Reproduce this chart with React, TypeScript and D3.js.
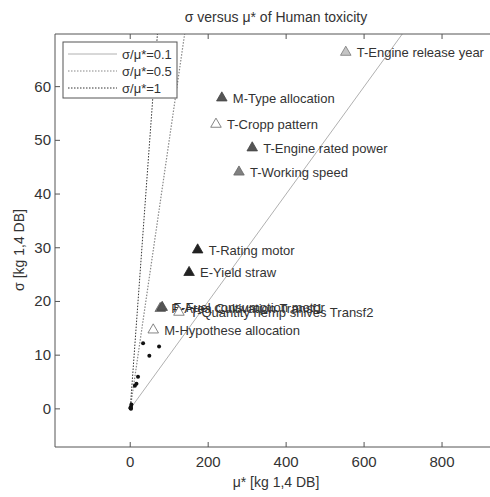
import React from "react";
import * as d3 from "d3";

const pointLabels = [
  "T-Engine release year",
  "M-Type allocation",
  "T-Cropp pattern",
  "T-Engine rated power",
  "T-Working speed",
  "T-Rating motor",
  "E-Yield straw",
  "P-Area Cultivation Transf1",
  "F-Fuel consumption motor",
  "T-Quantity hemp shives Transf2",
  "M-Hypothese allocation",
];
const pointMu = [553, 235, 220, 313, 279, 173, 151, 77, 82, 125, 59];
const pointSigma = [66.4, 57.9, 53.0, 48.6, 44.1, 29.6, 25.4, 18.7, 18.9, 18.0, 14.7];
const pointKind = ["light", "dark", "hollow", "dark", "mid", "black", "black", "mid", "dark", "hollow", "hollow"];

const dotMu = [33, 74, 49, 20, 16, 12, 3, 2, 1, 2, 0.5];
const dotSigma = [12.2, 11.6, 9.9, 6.0, 4.7, 4.3, 0.8, 0.4, 0.1, 0.0, 0.2];

const ratios = [0.1, 0.5, 1];
const ratioLabels = ["σ/μ*=0.1", "σ/μ*=0.5", "σ/μ*=1"];

const xTicks = [0, 200, 400, 600, 800];
const yTicks = [0, 10, 20, 30, 40, 50, 60];

const title = "σ versus μ* of Human toxicity";
const xLabel = "μ* [kg 1,4 DB]";
const yLabel = "σ [kg 1,4 DB]";

const kindStyle: Record<string, { fill: string; stroke: string }> = {
  light: { fill: "#c4c4c4", stroke: "#777" },
  dark: { fill: "#555", stroke: "#444" },
  hollow: { fill: "#fff", stroke: "#666" },
  mid: { fill: "#808080", stroke: "#666" },
  black: { fill: "#222", stroke: "#222" },
};
const lineStyle = [
  { stroke: "#b0b0b0", dash: "none", w: 1 },
  { stroke: "#888", dash: "1.5,1.5", w: 1.2 },
  { stroke: "#333", dash: "1.5,1.5", w: 1 },
];

export default function App() {
  const W = 490, H = 497;
  const left = 55, right = 497, top = 34, bottom = 447;
  const x = d3.scaleLinear().domain([-193, 941]).range([left, right]);
  const y = d3.scaleLinear().domain([-7.1, 69.8]).range([bottom, top]);
  const tri = d3.symbol().type(d3.symbolTriangle).size(48)() as string;
  const font = "'Liberation Sans', Arial, sans-serif";
  const ymax = y.domain()[1];

  return (
    <svg width={W} height={H} style={{ position: "absolute", left: 0, top: 0, background: "#fff" }} fontFamily={font}>
      <defs>
        <clipPath id="plot">
          <rect x={left} y={top} width={right - left} height={bottom - top} />
        </clipPath>
      </defs>
      <text x={276} y={22} textAnchor="middle" fontSize={14} fill="#333">{title}</text>
      <g clipPath="url(#plot)">
        {ratios.map((r, i) => (
          <line key={i} x1={x(0)} y1={y(0)} x2={x(ymax / r)} y2={y(ymax)}
            stroke={lineStyle[i].stroke} strokeDasharray={lineStyle[i].dash} strokeWidth={lineStyle[i].w} />
        ))}
        {dotMu.map((m, i) => (
          <circle key={i} cx={x(m)} cy={y(dotSigma[i])} r={2} fill="#111" />
        ))}
        {pointMu.map((m, i) => (
          <g key={i}>
            <path d={tri} transform={`translate(${x(m)},${y(pointSigma[i])})`}
              fill={kindStyle[pointKind[i]].fill} stroke={kindStyle[pointKind[i]].stroke} strokeWidth={0.8} />
            <text x={x(m) + 11} y={y(pointSigma[i]) + 5} fontSize={13} fill="#333">{pointLabels[i]}</text>
          </g>
        ))}
      </g>
      {/* axes */}
      <line x1={left} y1={top} x2={left} y2={bottom} stroke="#555" />
      <line x1={left} y1={bottom} x2={right} y2={bottom} stroke="#555" />
      <line x1={left} y1={top} x2={right} y2={top} stroke="#555" />
      {xTicks.map((t) => (
        <g key={t}>
          <line x1={x(t)} x2={x(t)} y1={bottom} y2={bottom - 5} stroke="#555" />
          <line x1={x(t)} x2={x(t)} y1={top} y2={top + 5} stroke="#555" />
          <text x={x(t)} y={467} textAnchor="middle" fontSize={15} fill="#333">{t}</text>
        </g>
      ))}
      {yTicks.map((t) => (
        <g key={t}>
          <line x1={left} x2={left + 5} y1={y(t)} y2={y(t)} stroke="#555" />
          <text x={51} y={y(t) + 5} textAnchor="end" fontSize={15} fill="#333">{t}</text>
        </g>
      ))}
      <text x={276} y={487} textAnchor="middle" fontSize={14} fill="#333">{xLabel}</text>
      <text transform={`translate(24,250) rotate(-90)`} textAnchor="middle" fontSize={14} fill="#333">{yLabel}</text>
      {/* legend */}
      <g>
        <rect x={63} y={42} width={114} height={56} fill="#fff" stroke="#555" strokeWidth={1} />
        {ratioLabels.map((l, i) => (
          <g key={i}>
            <line x1={68} x2={117} y1={54 + i * 17} y2={54 + i * 17}
              stroke={lineStyle[i].stroke} strokeDasharray={lineStyle[i].dash} strokeWidth={lineStyle[i].w} />
            <text x={122} y={59 + i * 17} fontSize={13} fill="#333">{l}</text>
          </g>
        ))}
      </g>
    </svg>
  );
}
